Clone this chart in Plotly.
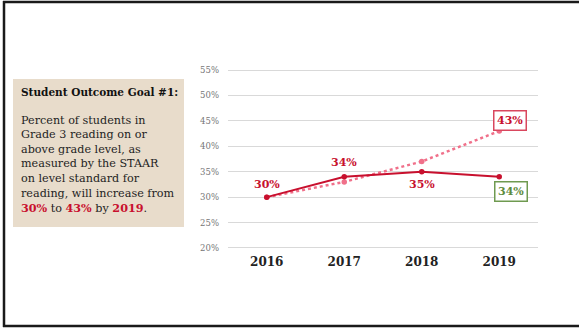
import plotly.graph_objects as go

# Data
years = ["2016", "2017", "2018", "2019"]
actual = [30, 34, 35, 34]
target = [30, 33, 37, 43]
y_ticks = [20, 25, 30, 35, 40, 45, 50, 55]
y_tick_labels = ["20%", "25%", "30%", "35%", "40%", "45%", "50%", "55%"]

W, H = 579, 328
ML, MR, MT, MB = 228, 41, 69, 79
PW, PH = W - ML - MR, H - MT - MB

RED = "#c8102e"
PINK = "#f0708a"
GREEN = "#5e8c3e"
SERIF = "DejaVu Serif"


def px(xp):
    return (xp - ML) / PW


def py(yp):
    return (H - MB - yp) / PH


fig = go.Figure()

xi = list(range(len(years)))

fig.add_trace(go.Scatter(
    x=xi, y=target, mode="lines+markers",
    line=dict(color=PINK, width=2.5, dash="dot"),
    marker=dict(color=PINK, size=5.5),
    hoverinfo="skip", showlegend=False,
))
fig.add_trace(go.Scatter(
    x=xi, y=actual, mode="lines+markers",
    line=dict(color=RED, width=2),
    marker=dict(color=RED, size=5.5),
    hoverinfo="skip", showlegend=False,
))

annotations = []
label_font = dict(family=SERIF, size=11, color=RED)
# Value labels for the actual series
offsets = [(0, 13), (0, 14), (0, -13)]
for i, (dx, dy) in enumerate(offsets):
    annotations.append(dict(
        x=i, y=actual[i], xref="x", yref="y",
        text=f"<b>{actual[i]}%</b>", showarrow=False,
        xshift=dx, yshift=dy, font=label_font,
    ))
# Boxed labels at the final year
annotations.append(dict(
    x=3, y=target[3], xref="x", yref="y",
    text=f"<b>{target[3]}%</b>", showarrow=False,
    xshift=11, yshift=11, font=label_font,
    bordercolor="#d9475e", borderwidth=1.5, borderpad=2.5, bgcolor="white",
))
annotations.append(dict(
    x=3, y=actual[3], xref="x", yref="y",
    text=f"<b>{actual[3]}%</b>", showarrow=False,
    xshift=12, yshift=-15, font=dict(family=SERIF, size=11, color=GREEN),
    bordercolor="#6f9a50", borderwidth=1.5, borderpad=2.5, bgcolor="white",
))

# Goal description panel
annotations.append(dict(
    x=px(19), y=py(92), xref="paper", yref="paper",
    xanchor="left", yanchor="middle", showarrow=False,
    text="<b>Student Outcome Goal #1:</b>",
    font=dict(family=SERIF, size=10.5, color="#111111"),
))
body = [
    "Percent of students in",
    "Grade 3 reading on or",
    "above grade level, as",
    "measured by the STAAR",
    "on level standard for",
    "reading, will increase from",
    f'<b><span style="color:{RED}">30%</span></b> to '
    f'<b><span style="color:{RED}">43%</span></b> by '
    f'<b><span style="color:{RED}">2019</span></b>.',
]
for i, line in enumerate(body):
    annotations.append(dict(
        x=px(19), y=py(120 + i * 14.6), xref="paper", yref="paper",
        xanchor="left", yanchor="middle", showarrow=False,
        text=line, font=dict(family=SERIF, size=11.2, color="#1e1e1e"),
    ))

shapes = [
    # panel background
    dict(type="rect", xref="paper", yref="paper",
         x0=px(13), x1=px(184), y0=py(79), y1=py(227),
         fillcolor="#e8dccb", line=dict(width=0), layer="below"),
    # page frame
    dict(type="line", xref="paper", yref="paper",
         x0=px(4), x1=px(4), y0=py(1), y1=py(327),
         line=dict(color="#1a1a1a", width=2.5)),
    dict(type="line", xref="paper", yref="paper",
         x0=px(3), x1=px(579), y0=py(2), y1=py(2),
         line=dict(color="#1a1a1a", width=2.5)),
    dict(type="line", xref="paper", yref="paper",
         x0=px(3), x1=px(579), y0=py(326), y1=py(326),
         line=dict(color="#1a1a1a", width=2.5)),
]

fig.update_layout(
    width=W, height=H,
    margin=dict(l=ML, r=MR, t=MT, b=MB, pad=0),
    paper_bgcolor="white", plot_bgcolor="white",
    annotations=annotations, shapes=shapes,
    xaxis=dict(
        range=[-0.5, 3.5], tickvals=xi, ticktext=[f"<b>{y}</b>" for y in years],
        showgrid=False, showline=False, zeroline=False, ticks="",
        tickfont=dict(family=SERIF, size=12, color="#222222"),
        ticklabelstandoff=4,
    ),
    yaxis=dict(
        range=[19.8, 55.2], tickvals=y_ticks, ticktext=y_tick_labels,
        showgrid=True, gridcolor="#d9d9d9", gridwidth=1,
        zeroline=False, showline=False, ticks="",
        tickfont=dict(family=SERIF, size=8.5, color="#767676"),
        ticklabelstandoff=8,
    ),
)

fig.write_html("out.html")
